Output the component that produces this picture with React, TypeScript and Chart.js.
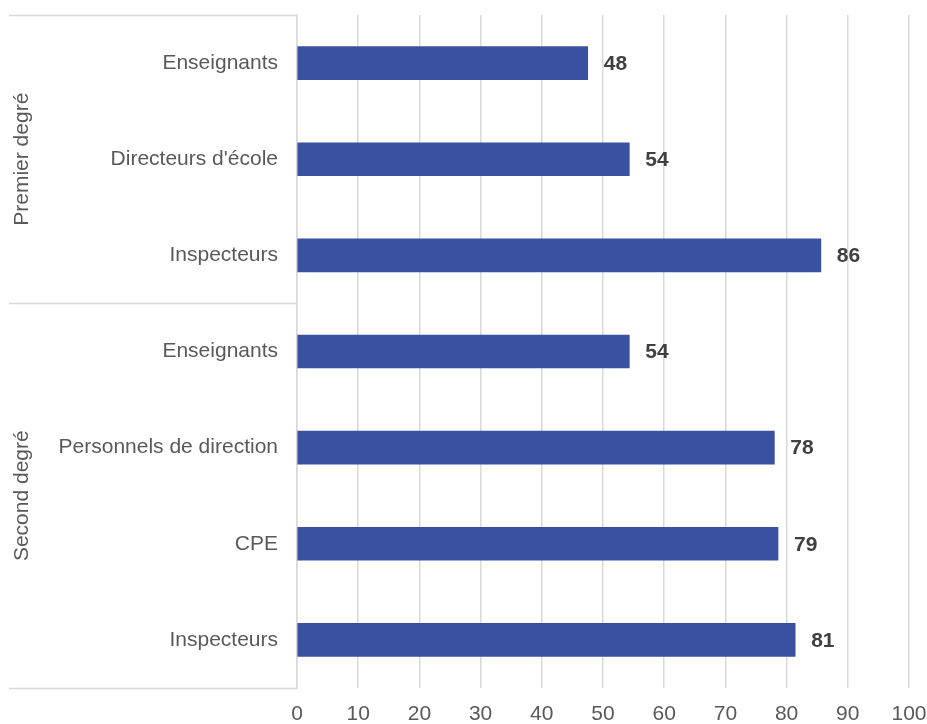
import React, { useEffect, useRef } from "react";
import { Chart, registerables } from "chart.js";

Chart.register(...registerables);

const categories = [
  "Enseignants",
  "Directeurs d'école",
  "Inspecteurs",
  "Enseignants",
  "Personnels de direction",
  "CPE",
  "Inspecteurs",
];
const values = [47.5, 54.3, 85.6, 54.3, 78.0, 78.6, 81.4];
const valueLabels = ["48", "54", "86", "54", "78", "79", "81"];
const groups = [
  { name: "Premier degré", start: 0, end: 2 },
  { name: "Second degré", start: 3, end: 6 },
];
const xTicks = [0, 10, 20, 30, 40, 50, 60, 70, 80, 90, 100];

const FONT = 'Arial, "Liberation Sans", sans-serif';

const overlayPlugin = {
  id: "overlay",
  afterDraw(chart: any) {
    const { ctx, chartArea, scales } = chart;
    const y = scales.y;
    const x = scales.x;
    ctx.save();
    ctx.strokeStyle = "#d9d9d9";
    ctx.lineWidth = 1.5;
    const left = 9;
    const axisX = chartArea.left;
    const bounds: number[] = [chartArea.top];
    for (let g = 0; g < groups.length - 1; g++) {
      const a = y.getPixelForValue(groups[g].end);
      const b = y.getPixelForValue(groups[g + 1].start);
      bounds.push((a + b) / 2);
    }
    bounds.push(chartArea.bottom);
    bounds.forEach((by) => {
      ctx.beginPath();
      ctx.moveTo(left, Math.round(by) + 0.5);
      ctx.lineTo(axisX, Math.round(by) + 0.5);
      ctx.stroke();
    });
    ctx.fillStyle = "#595959";
    ctx.font = `21px ${FONT}`;
    ctx.textAlign = "center";
    ctx.textBaseline = "middle";
    groups.forEach((g, i) => {
      const cy = (bounds[i] + bounds[i + 1]) / 2;
      ctx.save();
      ctx.translate(22, cy);
      ctx.rotate(-Math.PI / 2);
      ctx.fillText(g.name, 0, 0);
      ctx.restore();
    });
    ctx.fillStyle = "#404040";
    ctx.font = `bold 21px ${FONT}`;
    ctx.textAlign = "left";
    ctx.textBaseline = "middle";
    values.forEach((v, i) => {
      const px = x.getPixelForValue(v);
      const py = y.getPixelForValue(i);
      ctx.fillText(valueLabels[i], px + 16, py + 1);
    });
    ctx.restore();
  },
};

export default function App() {
  const ref = useRef<HTMLCanvasElement | null>(null);
  useEffect(() => {
    if (!ref.current) return;
    const chart = new Chart(ref.current, {
      type: "bar",
      data: {
        labels: categories,
        datasets: [
          {
            data: values,
            backgroundColor: "#3A51A1",
            barThickness: 33,
          },
        ],
      },
      options: {
        indexAxis: "y",
        animation: false,
        responsive: false,
        maintainAspectRatio: false,
        layout: { padding: { top: 15, right: 18, left: 0, bottom: 0 } },
        plugins: {
          legend: { display: false },
          tooltip: { enabled: false },
        },
        scales: {
          x: {
            type: "linear",
            min: 0,
            max: 100,
            afterBuildTicks: (s: any) => {
              s.ticks = xTicks.map((v) => ({ value: v }));
            },
            afterFit: (s: any) => {
              s.height = 36;
              s.paddingLeft = 0;
              s.paddingRight = 0;
            },
            grid: { color: "#d9d9d9", lineWidth: 1.5, drawTicks: false },
            border: { display: false },
            ticks: {
              color: "#595959",
              font: { size: 21, family: FONT },
              padding: 14,
              maxRotation: 0,
            },
          },
          y: {
            type: "category",
            afterFit: (s: any) => {
              s.width = 297;
              s.paddingTop = 0;
              s.paddingBottom = 0;
            },
            grid: { display: false, drawTicks: false },
            border: { display: true, color: "#d9d9d9", width: 1.5 },
            ticks: {
              color: "#595959",
              font: { size: 21, family: FONT },
              padding: 19,
            },
          },
        },
      },
      plugins: [overlayPlugin],
    });
    return () => chart.destroy();
  }, []);
  return (
    <div style={{ position: "fixed", left: 0, top: 0, width: 927, height: 724, background: "#fff" }}>
      <canvas ref={ref} width={927} height={724} style={{ width: 927, height: 724 }} />
    </div>
  );
}
